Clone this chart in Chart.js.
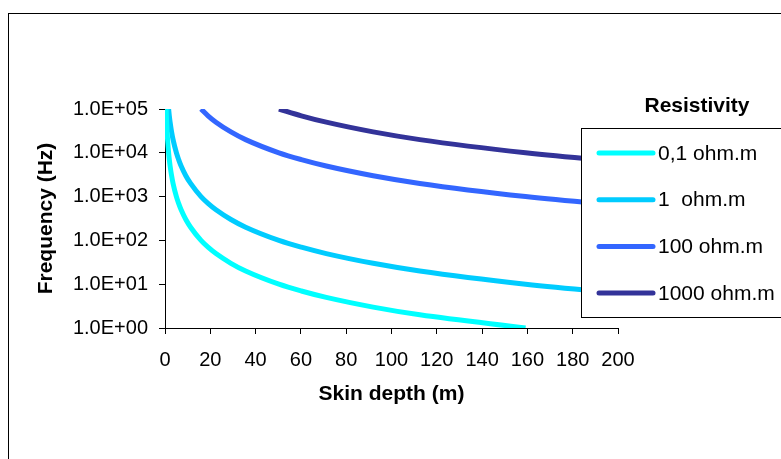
<!DOCTYPE html>
<html>
<head>
<meta charset="utf-8">
<script src="https://cdn.jsdelivr.net/npm/chart.js@4/dist/chart.umd.min.js"></script>
<style>
  html, body { margin: 0; padding: 0; background: #fff; overflow: hidden; }
  #wrap { position: relative; width: 781px; height: 459px; }
  #frame { position: absolute; left: 8px; top: 13px; width: 900px; height: 600px; border: 1px solid #000; box-sizing: border-box; pointer-events: none; }
  canvas { position: absolute; left: 0; top: 0; }
</style>
</head>
<body>
<div id="wrap">
  <div id="frame"></div>
  <canvas id="skin" width="781" height="459"></canvas>
</div>
<script>
// frequency samples (Hz), shared by every curve
const freqHz = [1, 2, 3, 5, 7, 10, 20, 30, 50, 70, 100, 200, 300, 500, 700,
  1000, 2000, 3000, 5000, 7000, 10000, 20000, 30000, 50000, 70000, 100000];

// skin depth (m) for each resistivity
const depth01 = [159.2, 112.5, 91.9, 71.2, 60.2, 50.3, 35.6, 29.1, 22.5, 19.0, 15.9, 11.3, 9.19,
  7.12, 6.02, 5.03, 3.56, 2.91, 2.25, 1.90, 1.59, 1.13, 0.92, 0.71, 0.60, 0.50];
const depth1 = [503.3, 355.9, 290.6, 225.1, 190.2, 159.2, 112.5, 91.9, 71.2, 60.2, 50.3, 35.6, 29.1,
  22.5, 19.0, 15.9, 11.3, 9.19, 7.12, 6.02, 5.03, 3.56, 2.91, 2.25, 1.90, 1.59];
const depth100 = [5033, 3559, 2906, 2251, 1902, 1592, 1125, 919, 712, 602, 503.3, 355.9, 290.6,
  225.1, 190.2, 159.2, 112.5, 91.9, 71.2, 60.2, 50.3, 35.6, 29.1, 22.5, 19.0, 15.9];
const depth1000 = [15916, 11254, 9189, 7118, 6016, 5033, 3559, 2906, 2251, 1902, 1592, 1125, 919,
  712, 602, 503.3, 355.9, 290.6, 225.1, 190.2, 159.2, 112.5, 91.9, 71.2, 60.2, 50.3];

const seriesLabels = ["0,1 ohm.m", "1  ohm.m", "100 ohm.m", "1000 ohm.m"];
const seriesColors = ["#00ffff", "#00ccff", "#3366ff", "#333399"];
const yTicks = [1, 10, 100, 1000, 10000, 100000];

const toPoints = (depths) => depths.map((d, i) => ({ x: d, y: freqHz[i] }));
const sciLabel = (v) => {
  const e = Math.round(Math.log10(v));
  return "1.0E+" + String(e).padStart(2, "0");
};

const FONT = "'Liberation Sans', Arial, sans-serif";

const legendBox = {
  id: "legendBox",
  afterDraw(chart) {
    const ctx = chart.ctx;
    ctx.save();
    ctx.fillStyle = "#fff";
    ctx.fillRect(581, 128, 300, 189);
    ctx.strokeStyle = "#000";
    ctx.lineWidth = 1;
    ctx.strokeRect(581.5, 128.5, 300, 189);

    ctx.fillStyle = "#000";
    ctx.font = "bold 21px " + FONT;
    ctx.textAlign = "center";
    ctx.textBaseline = "middle";
    ctx.fillText("Resistivity", 697, 106);

    ctx.font = "21px " + FONT;
    ctx.textAlign = "left";
    chart.data.datasets.forEach((ds, i) => {
      const y = 153 + i * 46.7;
      ctx.strokeStyle = ds.borderColor;
      ctx.lineWidth = 5;
      ctx.lineCap = "round";
      ctx.beginPath();
      ctx.moveTo(599, y);
      ctx.lineTo(653, y);
      ctx.stroke();
      ctx.fillStyle = "#000";
      ctx.fillText(ds.label, 658, y + 1);
    });
    ctx.restore();
  },
};

new Chart(document.getElementById("skin"), {
  type: "line",
  data: {
    datasets: [depth01, depth1, depth100, depth1000].map((d, i) => ({
      label: seriesLabels[i],
      data: toPoints(d),
      borderColor: seriesColors[i],
      backgroundColor: seriesColors[i],
      borderWidth: 5,
      pointRadius: 0,
      fill: false,
      cubicInterpolationMode: "monotone",
    })),
  },
  options: {
    responsive: false,
    animation: false,
    devicePixelRatio: 1,
    layout: { padding: { left: 0, right: 163, top: 109, bottom: 0 } },
    plugins: { legend: { display: false }, tooltip: { enabled: false } },
    scales: {
      x: {
        type: "linear",
        min: 0,
        max: 200,
        ticks: { stepSize: 20, color: "#000", font: { family: FONT, size: 20 }, padding: 14, maxRotation: 0 },
        grid: { drawOnChartArea: false, drawTicks: true, tickLength: 6, color: "#000" },
        border: { display: true, color: "#000", width: 1 },
        title: { display: true, text: "Skin depth (m)", color: "#000", font: { family: FONT, size: 21, weight: "bold" }, padding: { top: 0, bottom: 52 } },
        afterFit: (scale) => { scale.height = 131; },
      },
      y: {
        type: "logarithmic",
        min: 1,
        max: 100000,
        afterBuildTicks: (scale) => { scale.ticks = yTicks.map((v) => ({ value: v })); },
        ticks: { color: "#000", font: { family: FONT, size: 20 }, padding: 11, autoSkip: false, callback: (v) => sciLabel(v) },
        grid: { drawOnChartArea: false, drawTicks: true, tickLength: 6, color: "#000" },
        border: { display: true, color: "#000", width: 1 },
        title: { display: true, text: "Frequency (Hz)", color: "#000", font: { family: FONT, size: 21, weight: "bold" }, padding: { top: 34, bottom: 0 } },
        afterFit: (scale) => { scale.width = 165; },
      },
    },
  },
  plugins: [legendBox],
});
</script>
</body>
</html>
